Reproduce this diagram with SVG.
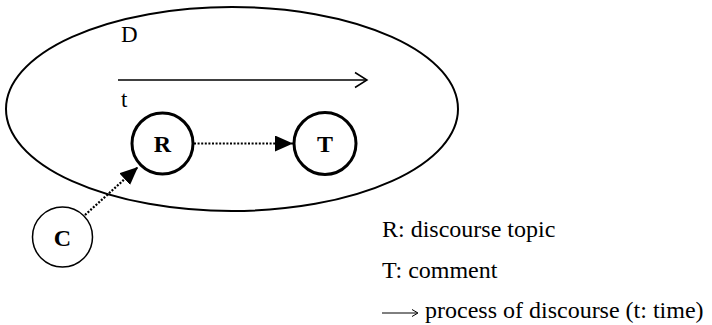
<svg xmlns="http://www.w3.org/2000/svg" width="712" height="325" viewBox="0 0 712 325">
<style>
text{font-family:"Liberation Serif","Times New Roman",serif;fill:#000}
.lbl{font-size:24px}
.nd{font-size:24px;font-weight:bold;text-anchor:middle}
.dot{stroke:#000;stroke-width:2.2;stroke-dasharray:2 1.6;fill:none}
</style>
<defs>
<marker id="head" markerUnits="userSpaceOnUse" markerWidth="20" markerHeight="18" refX="18" refY="8" orient="auto">
<path d="M0,0 L18,8 L0,16 z" fill="#000"/>
</marker>
</defs>
<rect width="712" height="325" fill="#fff"/>
<g id="D">
<ellipse cx="232" cy="109" rx="226" ry="102" fill="none" stroke="#000" stroke-width="2"/>
<text x="121" y="42" font-size="23">D</text>
<line x1="118" y1="80" x2="366" y2="80" stroke="#000" stroke-width="1.5"/>
<path d="M355,72.5 L367,80 L355,87.5" fill="none" stroke="#000" stroke-width="1.5"/>
<text x="121" y="107" font-size="23">t</text>
</g>
<g id="R">
<circle cx="162.5" cy="143.5" r="30.5" fill="#fff" stroke="#000" stroke-width="3"/>
<text class="nd" x="162.5" y="152">R</text>
</g>
<g id="T">
<circle cx="325" cy="143.5" r="31" fill="#fff" stroke="#000" stroke-width="3"/>
<text class="nd" x="325" y="152">T</text>
</g>
<g id="C">
<circle cx="62.5" cy="237" r="30" fill="#fff" stroke="#000" stroke-width="1.5"/>
<text class="nd" x="62.5" y="246">C</text>
</g>
<g id="connectors">
<line class="dot" x1="194" y1="143.5" x2="293" y2="143.5" marker-end="url(#head)"/>
<line class="dot" x1="85" y1="215" x2="138" y2="167" marker-end="url(#head)"/>
</g>
<g id="legend">
<text class="lbl" x="382" y="237">R: discourse topic</text>
<text class="lbl" x="382" y="278">T: comment</text>
<line x1="382" y1="313" x2="417" y2="313" stroke="#000" stroke-width="1"/>
<path d="M412,309.5 L418,313 L412,316.5" fill="none" stroke="#000" stroke-width="1"/>
<text class="lbl" x="425" y="318">process of discourse (t: time)</text>
</g>
</svg>
